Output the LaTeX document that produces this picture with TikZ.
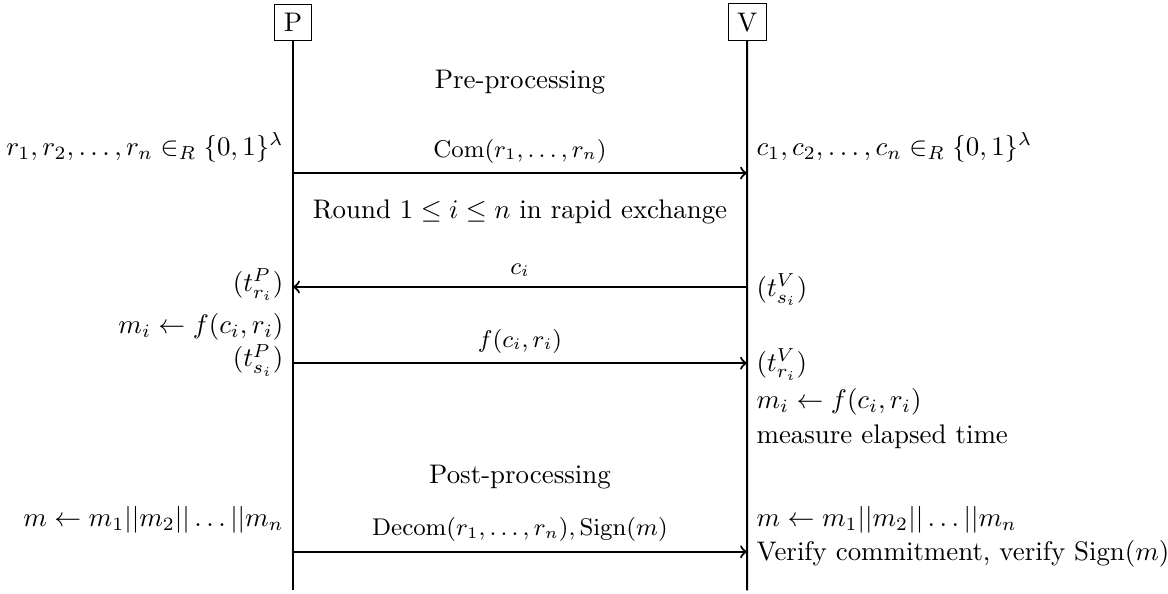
\documentclass[tikz,border=0pt]{standalone}
\usepackage{amsmath,amssymb}
\usetikzlibrary{arrows}

\begin{document}
\begin{tikzpicture}[scale=0.967,msg/.style={thick,->},lbl/.style={font=\small}]
  \useasboundingbox (0,0) rectangle (15.79,-8.02);
  % parties and lifelines
  \node[draw] (P) at (3.96,-0.30) {P};
  \node[draw] (V) at (10.10,-0.30) {V};
  \coordinate (Pend) at (3.96,-7.98);
  \coordinate (Vend) at (10.10,-7.98);
  \draw[thick] (P) -- (Pend);
  \draw[thick] (V) -- (Vend);
  %
  \node (pre) at (7.03,-1.11) {Pre-processing};
  \node[left] (rP) at (3.96,-1.99) {$r_1,r_2,\ldots,r_n \in_R \{0,1\}^\lambda$};
  \node[right] (cV) at (10.10,-1.99) {$c_1,c_2,\ldots,c_n \in_R \{0,1\}^\lambda$};
  \coordinate (p1) at (3.96,-2.34);
  \coordinate (v1) at (10.10,-2.34);
  \draw[msg] (p1) -- node[above,lbl]{$\mathrm{Com}(r_1,\ldots,r_n)$} (v1);
  %
  \node (round) at (7.03,-2.87) {Round $1 \leq i \leq n$ in rapid exchange};
  \coordinate (p2) at (3.96,-3.88);
  \coordinate (v2) at (10.10,-3.88);
  \draw[msg] (v2) -- node[above,lbl]{$c_i$} (p2);
  \node[left] (tPr) at (3.96,-3.85) {$(t^P_{r_i})$};
  \node[right] (tVs) at (10.10,-3.92) {$(t^V_{s_i})$};
  \node[left] (mP) at (3.96,-4.42) {$m_i \leftarrow f(c_i,r_i)$};
  \coordinate (p3) at (3.96,-4.91);
  \coordinate (v3) at (10.10,-4.91);
  \draw[msg] (p3) -- node[above,lbl]{$f(c_i,r_i)$} (v3);
  \node[left] (tPs) at (3.96,-4.87) {$(t^P_{s_i})$};
  \node[right] (tVr) at (10.10,-4.93) {$(t^V_{r_i})$};
  \node[right] (mV) at (10.10,-5.43) {$m_i \leftarrow f(c_i,r_i)$};
  \node[right] (meas) at (10.10,-5.91) {measure elapsed time};
  %
  \node (post) at (7.03,-6.45) {Post-processing};
  \node[left] (mallP) at (3.96,-7.02) {$m \leftarrow m_1||m_2||\ldots||m_n$};
  \node[right] (mallV) at (10.10,-7.02) {$m \leftarrow m_1||m_2||\ldots||m_n$};
  \coordinate (p4) at (3.96,-7.46);
  \coordinate (v4) at (10.10,-7.46);
  \draw[msg] (p4) -- node[above,lbl]{$\mathrm{Decom}(r_1,\ldots,r_n),\mathrm{Sign}(m)$} (v4);
  \node[right] (ver) at (10.10,-7.48) {Verify commitment, verify $\mathrm{Sign}(m)$};
\end{tikzpicture}
\end{document}
